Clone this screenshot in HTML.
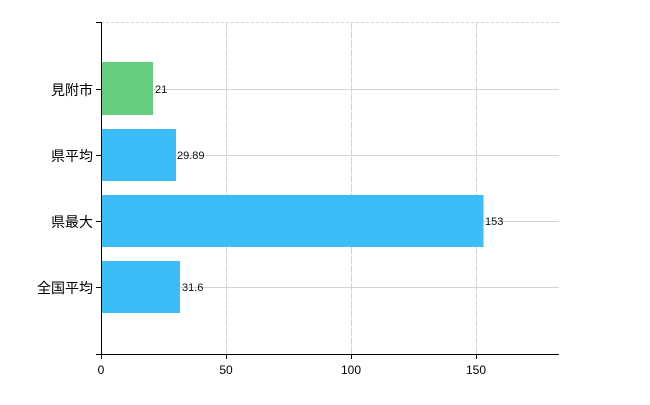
<!DOCTYPE html>
<html><head><meta charset="utf-8"><style>body{margin:0;background:#fff}</style></head>
<body>
<svg width="650" height="400" xmlns="http://www.w3.org/2000/svg" font-family="'Liberation Sans','Noto Sans CJK JP',sans-serif">
<g stroke="#d4d4d4" stroke-width="1">
<line x1="101" y1="22.5" x2="559" y2="22.5" stroke-dasharray="3,2"/>
<line x1="226.5" y1="22" x2="226.5" y2="354" stroke-dasharray="8,1"/>
<line x1="351.5" y1="22" x2="351.5" y2="354" stroke-dasharray="8,1"/>
<line x1="476.5" y1="22" x2="476.5" y2="354" stroke-dasharray="8,1"/>
<line x1="101" y1="89.5" x2="559" y2="89.5"/>
<line x1="101" y1="155.5" x2="559" y2="155.5"/>
<line x1="101" y1="221.5" x2="559" y2="221.5"/>
<line x1="101" y1="287.5" x2="559" y2="287.5"/>
</g>
<rect x="101" y="62" width="52" height="53" fill="#66cc80"/>
<rect x="101" y="129" width="75" height="52" fill="#3cbcf8"/>
<rect x="101" y="195" width="382.5" height="52" fill="#3cbcf8"/>
<rect x="101" y="261" width="79" height="52" fill="#3cbcf8"/>
<g font-size="11" fill="#111">
<text x="155" y="93">21</text>
<text x="177" y="159">29.89</text>
<text x="485" y="225">153</text>
<text x="182" y="291">31.6</text>
</g>
<g stroke="#000" stroke-width="1">
<line x1="101.5" y1="22" x2="101.5" y2="354"/>
<line x1="96" y1="354.5" x2="559" y2="354.5"/>
<line x1="96" y1="22.5" x2="101" y2="22.5"/>
<line x1="96" y1="89.5" x2="101" y2="89.5"/>
<line x1="96" y1="155.5" x2="101" y2="155.5"/>
<line x1="96" y1="221.5" x2="101" y2="221.5"/>
<line x1="96" y1="287.5" x2="101" y2="287.5"/>
<line x1="101.5" y1="354" x2="101.5" y2="359"/>
<line x1="226.5" y1="354" x2="226.5" y2="359"/>
<line x1="351.5" y1="354" x2="351.5" y2="359"/>
<line x1="476.5" y1="354" x2="476.5" y2="359"/>
</g>
<g font-size="14" fill="#000" text-anchor="end">
<text x="93" y="95">見附市</text>
<text x="93" y="161">県平均</text>
<text x="93" y="227">県最大</text>
<text x="93" y="293">全国平均</text>
</g>
<g font-size="12" fill="#000" text-anchor="middle">
<text x="101" y="374">0</text>
<text x="226" y="374">50</text>
<text x="351" y="374">100</text>
<text x="476" y="374">150</text>
</g>
</svg>
</body></html>
